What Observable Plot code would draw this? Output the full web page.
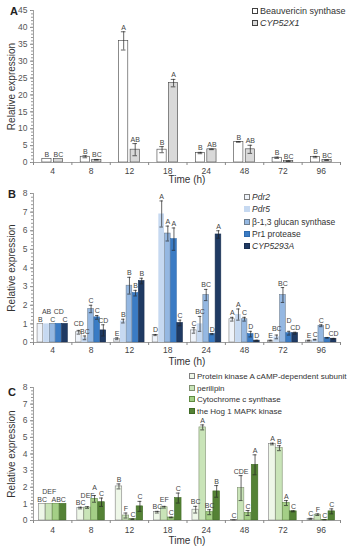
<!DOCTYPE html>
<html><head><meta charset="utf-8">
<script src="https://cdn.jsdelivr.net/npm/d3@7"></script>
<script src="https://cdn.jsdelivr.net/npm/@observablehq/plot@0.6"></script>
<style>
body{margin:0;background:#fff;}
#wrap{position:relative;width:347px;height:550px;font-family:"Liberation Sans",Arial,sans-serif;color:#333;overflow:hidden;}
.panel{position:absolute;left:0;width:347px;}
.plab{position:absolute;font-weight:bold;font-size:11px;color:#222;}
.leg{position:absolute;color:#333;line-height:1;}
.leg div{position:relative;white-space:nowrap;}
.leg span.sw{display:inline-block;margin-right:2px;vertical-align:0px;box-sizing:border-box;}
svg{display:block;}
</style></head><body>
<div id="wrap"></div>
<script>
// ---------- shared categories ----------
const times = ["4", "8", "12", "18", "24", "48", "72", "96"];

// ---------- Panel A ----------
const seriesA = ["Beauvericin synthase", "CYP52X1"];
const beauvericin = [1, 1.7, 36, 3.8, 2.8, 6.1, 1.4, 1.6];
const beauvericinErr = [0, 0.3, 2.7, 0.9, 0.2, 0.1, 0.2, 0.2];
const beauvericinLab = ["B", "B", "A", "B", "B", "B", "B", "B"];
const cyp52x1 = [1, 0.8, 3.8, 23.5, 3.9, 3.9, 0.4, 0.7];
const cyp52x1Err = [0, 0.1, 1.8, 1.1, 0.1, 1.2, 0.1, 0.1];
const cyp52x1Lab = ["BC", "BC", "AB", "A", "AB", "AB", "BC", "BC"];
const ticksA = [0, 5, 10, 15, 20, 25, 30, 35, 40, 45];

// ---------- Panel B ----------
const seriesB = ["Pdr2", "Pdr5", "β-1,3 glucan synthase", "Pr1 protease", "CYP5293A"];
const pdr2 = [1, 0.55, 0.2, 0.4, 0.65, 1.25, 0.1, 0.1];
const pdr2Err = [0, 0.1, 0.05, 0.03, 0.15, 0.1, 0.02, 0.02];
const pdr2Lab = ["B", "CD", "E", "D", "C", "A", "E", "E"];
const pdr5 = [1, 0.25, 1.15, 6.9, 1.0, 1.5, 0.3, 0.15];
const pdr5Err = [0, 0.1, 0.1, 0.7, 0.4, 0.3, 0.1, 0.02];
const pdr5Lab = ["AB", "BC", "B", "A", "BC", "A", "BC", "C"];
const glucan = [1, 1.8, 3.05, 5.85, 2.55, 1.25, 2.55, 0.9];
const glucanErr = [0, 0.2, 0.45, 0.4, 0.3, 0.1, 0.4, 0.05];
const glucanLab = ["C", "C", "B", "A", "BC", "C", "BC", "C"];
const pr1 = [1, 1.35, 2.65, 5.55, 0.45, 0.45, 0.5, 0.25];
const pr1Err = [0, 0.1, 0.15, 0.6, 0.03, 0.15, 0.1, 0.02];
const pr1Lab = ["CD", "C", "B", "A", "D", "D", "D", "D"];
const cyp5293a = [1, 0.65, 3.3, 1.05, 5.8, 0.1, 0.5, 0.2];
const cyp5293aErr = [0, 0.3, 0.15, 0.15, 0.2, 0.02, 0.05, 0.02];
const cyp5293aLab = ["C", "CD", "B", "C", "A", "D", "CD", "CD"];
const ticksB = [0, 1, 2, 3, 4, 5, 6, 7, 8];

// ---------- Panel C ----------
const seriesC = ["Protein kinase A cAMP-dependent subunit", "perilipin", "Cytochrome c synthase", "the Hog 1 MAPK kinase"];
const pka = [1, 0.75, 2.05, 0.5, 0.65, 0.02, 4.6, 0.1];
const pkaErr = [0, 0.05, 0.15, 0.05, 0.2, 0.01, 0.05, 0.03];
const pkaLab = ["BC", "BC", "B", "BC", "BC", "C", "A", "C"];
const perilipin = [1, 0.78, 0.3, 0.8, 5.6, 1.95, 4.35, 0.35];
const perilipinErr = [0, 0.05, 0.15, 0.05, 0.15, 0.75, 0.15, 0.05];
const perilipinLab = ["DEF", "DEF", "F", "EF", "A", "CDE", "B", "F"];
const cytc = [1, 1.3, 0.08, 0.18, 0.5, 0.45, 1.05, 0.03];
const cytcErr = [0, 0.2, 0.02, 0.02, 0.15, 0.15, 0.15, 0.02];
const cytcLab = ["AB", "A", "C", "C", "BC", "C", "A", "C"];
const hog1 = [1, 1.1, 0.85, 1.35, 1.75, 3.35, 0.55, 0.55];
const hog1Err = [0, 0.25, 0.3, 0.3, 0.35, 0.6, 0.03, 0.15];
const hog1Lab = ["C", "C", "C", "C", "B", "A", "C", "C"];
const ticksC = [0, 1, 2, 3, 4, 5, 6, 7, 8];

const FONT = '"Liberation Sans", Arial, sans-serif';
const wrap = document.getElementById("wrap");

function panel(cfg) {
  const n = cfg.series.length;
  const total = n * cfg.barW + (n - 1) * cfg.gap;
  const pxPerUnitX = (347 - 33 - 7) / 8;
  const pxPerUnitY = (cfg.height - cfg.mt - cfg.mb) / cfg.yMax;
  const charW = cfg.labFont * 0.68;
  const rows = [];
  cfg.series.forEach((s, si) => {
    times.forEach((t, i) => {
      const x1 = i - total / 2 + si * (cfg.barW + cfg.gap);
      rows.push({i, si, s, t, v: cfg.vals[si][i], e: cfg.errs[si][i], lab: cfg.labs[si][i],
        x1, x2: x1 + cfg.barW, xc: x1 + cfg.barW / 2, raise: 0});
    });
  });
  // label collision avoidance within each time group: lift the higher label of a clashing pair
  times.forEach((t, i) => {
    const g = rows.filter(d => d.i === i).sort((a, b) => a.si - b.si);
    for (let k = 1; k < g.length; k++) {
      const a = g[k - 1], b = g[k];
      const ha = (a.v + a.e) * pxPerUnitY + a.raise;
      const hb = (b.v + b.e) * pxPerUnitY + b.raise;
      const dxPx = (b.xc - a.xc) * pxPerUnitX;
      const need = (a.lab.length + b.lab.length) * charW / 2;
      const gapV = Math.abs(ha - hb);
      if (gapV < cfg.labFont && need - dxPx > 0.3) {
        const lift = cfg.labFont + 0.5 - gapV;
        if (ha > hb && !a.raise) a.raise += lift; else b.raise += lift;
      }
    }
  });
  const er = rows.filter(d => d.e > 0);
  const cap = Math.min(cfg.barW * 0.3, 0.06);
  const minor = d3.range(0, cfg.yMax + 1e-9, cfg.minor);
  const plot = Plot.plot({
    width: 347, height: cfg.height,
    marginLeft: 33, marginRight: 7, marginTop: cfg.mt, marginBottom: cfg.mb,
    x: {domain: [-0.5, 7.5], axis: null},
    y: {domain: [0, cfg.yMax], axis: null, label: null},
    style: {fontFamily: FONT, fontSize: "8px", color: "#444", background: "transparent", overflow: "visible"},
    marks: [
      Plot.rectY(rows, {x1: "x1", x2: "x2", y1: 0, y2: "v",
        fill: d => cfg.fills[d.si], stroke: d => cfg.strokes[d.si], strokeWidth: 0.6}),
      Plot.ruleX(er, {x: "xc", y1: d => Math.max(0, d.v - d.e), y2: d => d.v + d.e, stroke: "#222", strokeWidth: 0.7}),
      Plot.ruleY(er, {x1: d => d.xc - cap, x2: d => d.xc + cap, y: d => d.v + d.e, stroke: "#222", strokeWidth: 0.7}),
      Plot.ruleY(er, {x1: d => d.xc - cap, x2: d => d.xc + cap, y: d => Math.max(0, d.v - d.e), stroke: "#222", strokeWidth: 0.7}),
      Plot.text(rows, {x: "xc", y: d => d.v + d.e + d.raise / pxPerUnitY, text: "lab", dy: -2, lineAnchor: "bottom",
        fontSize: cfg.labFont, fill: "#444"}),
      Plot.ruleY([0], {stroke: "#888", strokeWidth: 0.8}),
      Plot.ruleX([-0.5], {stroke: "#888", strokeWidth: 0.8}),
      Plot.axisY({ticks: cfg.ticks, tickSize: 3, tickPadding: 3, label: null, stroke: "#888", fill: "#555", fontSize: 8.5}),
      Plot.axisY({ticks: minor, tickSize: 2, label: null, tickFormat: () => "", stroke: "#999"}),
      Plot.axisX({ticks: d3.range(8), tickSize: 0, tickPadding: cfg.xPad, tickFormat: i => times[i], label: null, fill: "#444", fontSize: 8.5}),
      Plot.axisX({ticks: d3.range(-0.5, 8, 1), tickSize: 3, tickFormat: () => "", label: null, stroke: "#888"}),
      Plot.text(["Time (h)"], {frameAnchor: "bottom", lineAnchor: "middle", textAnchor: "middle", dy: cfg.timeDy, fontSize: 10, fill: "#333"}),
      Plot.text(["Relative expression"], {frameAnchor: "left", rotate: -90, textAnchor: "middle", lineAnchor: "middle", dx: -22, fontSize: 10, fill: "#333"})
    ]
  });
  const div = document.createElement("div");
  div.className = "panel";
  div.style.top = cfg.top + "px";
  div.style.height = cfg.height + "px";
  div.appendChild(plot);
  const pl = document.createElement("div");
  pl.className = "plab";
  pl.textContent = cfg.letter;
  pl.style.left = cfg.letterPos[0] + "px";
  pl.style.top = cfg.letterPos[1] + "px";
  div.appendChild(pl);
  const leg = document.createElement("div");
  leg.className = "leg";
  leg.style.left = cfg.legPos[0] + "px";
  leg.style.top = cfg.legPos[1] + "px";
  leg.style.fontSize = cfg.legFont + "px";
  cfg.series.forEach((s, si) => {
    const row = document.createElement("div");
    row.style.height = cfg.legStep + "px";
    const sw = document.createElement("span");
    sw.className = "sw";
    sw.style.width = sw.style.height = cfg.swSize + "px";
    sw.style.background = cfg.fills[si];
    sw.style.border = "0.8px solid " + (cfg.strokes[si] === "none" ? cfg.fills[si] : cfg.strokes[si]);
    row.appendChild(sw);
    const tx = document.createElement("span");
    tx.textContent = s;
    if (cfg.italic[si]) tx.style.fontStyle = "italic";
    row.appendChild(tx);
    leg.appendChild(row);
  });
  div.appendChild(leg);
  wrap.appendChild(div);
}

panel({
  letter: "A", letterPos: [10, 5], top: 0, height: 185, mt: 10, mb: 23,
  series: seriesA, vals: [beauvericin, cyp52x1], errs: [beauvericinErr, cyp52x1Err], labs: [beauvericinLab, cyp52x1Lab],
  fills: ["#ffffff", "#d9d9d9"], strokes: ["#404040", "#404040"], italic: [false, true],
  barW: 0.24, gap: 0.06, yMax: 45, ticks: ticksA, minor: 1, labFont: 7, xPad: 5, timeDy: 17,
  legPos: [252, 7], legFont: 9, legStep: 12, swSize: 6
});
panel({
  letter: "B", letterPos: [8, 3], top: 185, height: 180, mt: 8, mb: 23,
  series: seriesB, vals: [pdr2, pdr5, glucan, pr1, cyp5293a], errs: [pdr2Err, pdr5Err, glucanErr, pr1Err, cyp5293aErr],
  labs: [pdr2Lab, pdr5Lab, glucanLab, pr1Lab, cyp5293aLab],
  fills: ["#eef3fa", "#c6d9f1", "#95b8e2", "#3a7bc4", "#1f3a63"], strokes: ["#7f7f7f", "none", "#6f7f90", "#2f6aad", "#1a2f50"],
  italic: [true, true, false, false, true],
  barW: 0.148, gap: 0.012, yMax: 8, ticks: ticksB, minor: 0.2, labFont: 7, xPad: 4, timeDy: 19,
  legPos: [244, 8], legFont: 8.5, legStep: 12.3, swSize: 6
});
panel({
  letter: "C", letterPos: [8, 21], top: 365, height: 185, mt: 22, mb: 30,
  series: seriesC, vals: [pka, perilipin, cytc, hog1], errs: [pkaErr, perilipinErr, cytcErr, hog1Err],
  labs: [pkaLab, perilipinLab, cytcLab, hog1Lab],
  fills: ["#eef7e8", "#c9e4b8", "#a4cf86", "#548235"], strokes: ["#7f7f7f", "#7f8f70", "#5f8a40", "#3f6a25"],
  italic: [false, false, false, false],
  barW: 0.17, gap: 0.012, yMax: 8, ticks: ticksC, minor: 0.2, labFont: 7, xPad: 6, timeDy: 20,
  legPos: [189, 8], legFont: 8, legStep: 11.7, swSize: 6
});
</script>
</body></html>
